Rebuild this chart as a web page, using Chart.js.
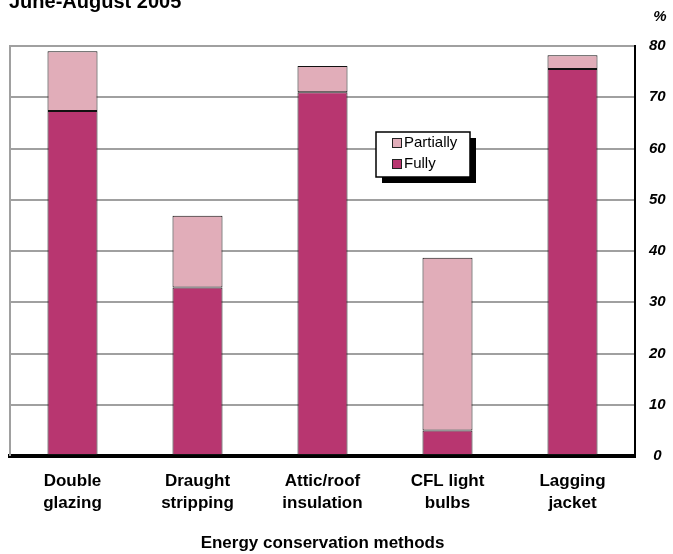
<!DOCTYPE html>
<html>
<head>
<meta charset="utf-8">
<script src="https://cdn.jsdelivr.net/npm/chart.js@4/dist/chart.umd.min.js"></script>
<style>
  html, body { margin: 0; padding: 0; background: #fff; }
  #wrap { width: 673px; height: 554px; position: relative; }
</style>
</head>
<body>
<div id="wrap"><canvas id="c" width="673" height="554"></canvas></div>
<script>
const categories = [['Double', 'glazing'], ['Draught', 'stripping'], ['Attic/roof', 'insulation'], ['CFL light', 'bulbs'], ['Lagging', 'jacket']];
const fully = [67.3, 32.9, 71.0, 5.0, 75.5];
const partially = [11.7, 14.0, 5.1, 33.7, 2.7];
const yTicks = [0, 10, 20, 30, 40, 50, 60, 70, 80];
const chartTitle = 'June-August 2005';
const xTitle = 'Energy conservation methods';
const unitLabel = '%';

const FONT = '"Liberation Sans", Arial, Helvetica, sans-serif';

const decor = {
  id: 'decor',
  beforeDatasetsDraw(chart) {
    const { ctx, chartArea: a } = chart;
    ctx.save();
    ctx.strokeStyle = '#a0a0a0';
    ctx.lineWidth = 2;
    ctx.beginPath();
    ctx.moveTo(a.left, a.top - 1);
    ctx.lineTo(a.left, a.bottom);
    ctx.stroke();
    ctx.restore();
  },
  afterDraw(chart) {
    const { ctx } = chart;
    ctx.save();
    // title (partially cut at the top)
    ctx.fillStyle = '#000';
    ctx.font = 'bold 20px ' + FONT;
    ctx.textAlign = 'left';
    ctx.textBaseline = 'alphabetic';
    ctx.fillText(chartTitle, 9, 8);
    // unit
    ctx.font = 'bold italic 15px ' + FONT;
    ctx.textAlign = 'center';
    ctx.textBaseline = 'middle';
    ctx.fillText(unitLabel, 660, 17);
    // legend
    const bx = 376, by = 132, bw = 94, bh = 45, sh = 6;
    ctx.fillStyle = '#000';
    ctx.fillRect(bx + sh, by + sh, bw, bh);
    ctx.fillStyle = '#fff';
    ctx.fillRect(bx, by, bw, bh);
    ctx.strokeStyle = '#000';
    ctx.lineWidth = 1.5;
    ctx.strokeRect(bx, by, bw, bh);
    const ds = chart.data.datasets;
    const order = [1, 0];
    ctx.font = '15px ' + FONT;
    ctx.textAlign = 'left';
    ctx.textBaseline = 'middle';
    order.forEach((di, i) => {
      const cy = 143 + i * 21;
      ctx.fillStyle = ds[di].backgroundColor;
      ctx.fillRect(392, cy - 5, 10, 10);
      ctx.strokeStyle = '#222';
      ctx.lineWidth = 1;
      ctx.strokeRect(392.5, cy - 4.5, 9, 9);
      ctx.fillStyle = '#000';
      ctx.fillText(ds[di].label, 404, cy);
    });
    ctx.restore();
  }
};

new Chart(document.getElementById('c'), {
  type: 'bar',
  data: {
    labels: categories,
    datasets: [
      { label: 'Fully', data: fully, backgroundColor: '#b83670', borderColor: '#111', borderWidth: 1, borderSkipped: false },
      { label: 'Partially', data: partially, backgroundColor: '#e1adb9', borderColor: '#111', borderWidth: 1, borderSkipped: false }
    ]
  },
  options: {
    responsive: false,
    animation: false,
    devicePixelRatio: 1,
    layout: { padding: { left: 10, top: 46, right: 0, bottom: 0 } },
    plugins: { legend: { display: false }, title: { display: false }, tooltip: { enabled: false } },
    datasets: { bar: { categoryPercentage: 1, barPercentage: 0.4 } },
    scales: {
      x: {
        stacked: true,
        grid: { display: false, drawTicks: false },
        border: { display: true, color: '#000', width: 4 },
        ticks: { color: '#000', font: { family: FONT, size: 17, weight: 'bold', lineHeight: 1.3 }, padding: 14, maxRotation: 0, autoSkip: false },
        title: { display: true, text: xTitle, color: '#000', font: { family: FONT, size: 17, weight: 'bold', lineHeight: 1.2 }, padding: { top: 0, bottom: 0 } },
        afterFit(s) { s.height = 98; }
      },
      y: {
        stacked: true,
        position: 'right',
        min: 0, max: 80,
        afterBuildTicks(s) { s.ticks = yTicks.map(v => ({ value: v })); },
        grid: { color: '#a0a0a0', lineWidth: 2, drawTicks: false },
        border: { display: true, color: '#000', width: 2 },
        ticks: { color: '#000', crossAlign: 'center', padding: 14, font: { family: FONT, size: 15, weight: 'bold', style: 'italic' } },
        afterFit(s) { s.width = 38; }
      }
    }
  },
  plugins: [decor]
});
</script>
</body>
</html>
